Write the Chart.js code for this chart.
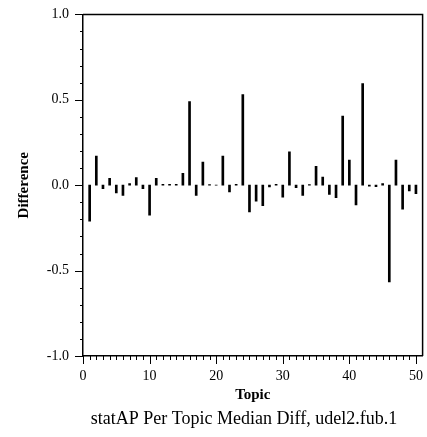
<!DOCTYPE html>
<html>
<head>
<meta charset="utf-8">
<script src="https://cdn.jsdelivr.net/npm/chart.js@4"></script>
<style>
  html, body { margin: 0; padding: 0; background: #fff; }
  #wrap { width: 427px; height: 437px; }
</style>
</head>
<body>
<div id="wrap"><canvas id="myChart" width="427" height="437"></canvas></div>
<script>
// per topic median difference
const topics = [1,2,3,4,5,6,7,8,9,10,11,12,13,14,15,16,17,18,19,20,21,22,23,24,25,26,27,28,29,30,31,32,33,34,35,36,37,38,39,40,41,42,43,44,45,46,47,48,49,50];
const diffs = [-0.21, 0.17, -0.02, 0.04, -0.045, -0.06, 0.01, 0.045, -0.02, -0.175,
  0.04, 0.005, 0.005, 0.005, 0.07, 0.49, -0.06, 0.135, 0.003, 0.0,
  0.17, -0.04, 0.005, 0.53, -0.157, -0.093, -0.12, -0.01, 0.005, -0.07,
  0.195, -0.015, -0.06, 0.003, 0.11, 0.047, -0.054, -0.073, 0.405, 0.147,
  -0.116, 0.595, -0.005, -0.008, 0.01, -0.566, 0.147, -0.14, -0.033, -0.05];
const xTicks = [0, 10, 20, 30, 40, 50];
const yTicks = [-1.0, -0.5, 0.0, 0.5, 1.0];
const caption = 'statAP Per Topic Median Diff, udel2.fub.1';

const serif = "'Liberation Serif', 'DejaVu Serif', serif";

// frame, minor/major ticks and caption
const framePlugin = {
  id: 'frame',
  afterDraw(chart) {
    const {ctx, chartArea: a, scales: {x, y}} = chart;
    ctx.save();
    ctx.strokeStyle = '#000';
    ctx.lineWidth = 1.5;
    ctx.beginPath();
    ctx.moveTo(a.left, a.top);
    ctx.lineTo(a.right, a.top);
    ctx.lineTo(a.right, a.bottom);
    ctx.stroke();

    ctx.lineWidth = 1;
    ctx.beginPath();
    for (let i = -10; i <= 10; i++) {
      const py = Math.round(y.getPixelForValue(i / 10)) + 0.5;
      const len = (i % 5 === 0) ? 8 : 3;
      ctx.moveTo(a.left - len, py);
      ctx.lineTo(a.left, py);
    }
    for (let i = 0; i <= 50; i++) {
      const px = Math.round(x.getPixelForValue(i)) + 0.5;
      const len = (i % 10 === 0) ? 8 : 4;
      ctx.moveTo(px, a.bottom);
      ctx.lineTo(px, a.bottom + len);
    }
    ctx.stroke();

    ctx.fillStyle = '#000';
    ctx.font = '18px ' + serif;
    ctx.textAlign = 'center';
    ctx.textBaseline = 'middle';
    ctx.fillText(caption, 244, 419);
    ctx.restore();
  }
};

const ctx = document.getElementById('myChart').getContext('2d');

const chartData = {
  datasets: [{
    data: topics.map((t, i) => ({x: t, y: diffs[i]})),
    backgroundColor: '#000',
    borderWidth: 0,
    barThickness: 2
  }]
};

const chartOptions = {
  responsive: false,
  animation: false,
  layout: {
    padding: {top: 13, right: 3, bottom: 27, left: 0}
  },
  plugins: {
    legend: {display: false},
    tooltip: {enabled: false}
  },
  scales: {
    x: {
      type: 'linear',
      offset: false,
      min: 0,
      max: 51,
      afterFit: (s) => { s.height = 54; },
      grid: {display: false},
      border: {display: true, color: '#000', width: 1.5},
      ticks: {
        stepSize: 10,
        includeBounds: false,
        autoSkip: false,
        maxRotation: 0,
        padding: 4,
        color: '#000',
        font: {family: serif, size: 14},
        callback: (v) => xTicks.includes(v) ? String(v) : ''
      },
      title: {
        display: true,
        text: 'Topic',
        color: '#000',
        font: {family: serif, size: 15, weight: 'bold'},
        padding: {top: 0, bottom: 6}
      }
    },
    y: {
      min: -1,
      max: 1,
      afterFit: (s) => { s.width = 83; },
      grid: {display: false},
      border: {display: true, color: '#000', width: 1.5},
      ticks: {
        stepSize: 0.5,
        padding: 6,
        color: '#000',
        font: {family: serif, size: 14},
        callback: (v) => yTicks.some(t => Math.abs(t - v) < 1e-9) ? Number(v).toFixed(1) : ''
      },
      title: {
        display: true,
        text: 'Difference',
        color: '#000',
        font: {family: serif, size: 15, weight: 'bold'},
        padding: {top: 15, bottom: 0}
      }
    }
  }
};

const myChart = new Chart(ctx, {type: 'bar', data: chartData, options: chartOptions, plugins: [framePlugin]});
</script>
</body>
</html>
